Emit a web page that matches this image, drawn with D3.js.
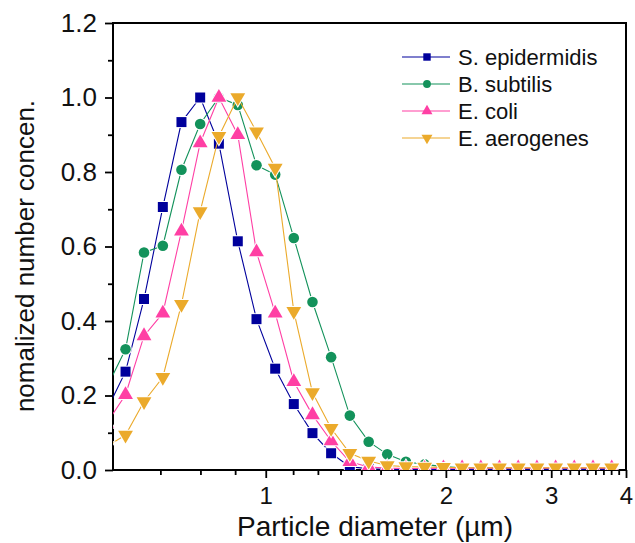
<!DOCTYPE html>
<meta charset="utf-8">
<script src="https://d3js.org/d3.v7.min.js"></script>
<style>
  html, body { margin: 0; padding: 0; background: white; }
  text { font-family: 'Liberation Sans', Arial, sans-serif; }
</style>
<body>
<div id="chart"></div>
<script>

// APS channel midpoints (um)
var diameters = [0.542, 0.583, 0.626, 0.673, 0.723, 0.777, 0.835, 0.898, 0.965, 1.037,
                 1.114, 1.197, 1.286, 1.382, 1.486, 1.596, 1.715, 1.843, 1.981, 2.129,
                 2.288, 2.458, 2.642, 2.839, 3.051, 3.278, 3.523, 3.786]

var sEpidermidis = [0.16, 0.264, 0.459, 0.706, 0.934, 1.0, 0.876, 0.614, 0.405, 0.272,
                    0.177, 0.099, 0.045, 0.009, 0.003, 0.002, 0.001, 0.001, 0.001, 0.001,
                    0.001, 0.001, 0.001, 0.001, 0.001, 0.001, 0.001, 0.001]
var bSubtilis = [0.221, 0.324, 0.584, 0.602, 0.806, 0.929, 1.0, 0.98, 0.818, 0.793,
                 0.623, 0.451, 0.303, 0.146, 0.076, 0.042, 0.022, 0.015, 0.009, 0.006,
                 0.005, 0.005, 0.004, 0.004, 0.004, 0.004, 0.004, 0.004]
var eColi = [0.125, 0.202, 0.36, 0.421, 0.641, 0.878, 1.0, 0.9, 0.585, 0.421,
             0.237, 0.148, 0.078, 0.022, 0.008, 0.005, 0.004, 0.004, 0.005, 0.005,
             0.005, 0.005, 0.005, 0.005, 0.005, 0.005, 0.005, 0.005]
var eAerogenes = [0.063, 0.094, 0.184, 0.249, 0.445, 0.694, 0.896, 1.0, 0.908, 0.811,
                  0.426, 0.208, 0.112, 0.045, 0.024, 0.012, 0.009, 0.008, 0.007, 0.006,
                  0.006, 0.006, 0.006, 0.006, 0.006, 0.006, 0.006, 0.006]

var seriesNames = ["S. epidermidis", "B. subtilis", "E. coli", "E. aerogenes"]
var seriesValues = [sEpidermidis, bSubtilis, eColi, eAerogenes]
var seriesColors = ["#00009c", "#13925b", "#ff3fa4", "#ebaa2b"]
var seriesSymbols = ["square", "circle", "triangle", "triangleDown"]

var xMajorTicks = [1, 2, 3, 4]
var yTicks = [0, 0.2, 0.4, 0.6, 0.8, 1.0, 1.2]

var width = 635,
    height = 543
var margin = {top: 23, right: 9, bottom: 73, left: 113}
var innerW = width - margin.left - margin.right,
    innerH = height - margin.top - margin.bottom

var svg = d3.select("#chart")
  .append("svg")
    .attr("width", width)
    .attr("height", height)

var g = svg.append("g")
    .attr("transform", "translate(" + margin.left + "," + margin.top + ")")

var x = d3.scaleLog()
  .domain([5 / 9, 4])
  .range([0, innerW])

var y = d3.scaleLinear()
  .domain([0, 1.2])
  .range([innerH, 0])

// minor ticks: 8 per unit interval (Origin style)
var xMinor = []
for (var k = 0; k < 4; k++) {
  for (var j = 1; j < 9; j++) {
    var v = k + j / 9
    if (v > 5 / 9 && v < 4) xMinor.push(v)
  }
}
var yMinor = d3.range(0.1, 1.2, 0.2)

svg.append("defs").append("clipPath")
    .attr("id", "plotclip")
  .append("rect")
    .attr("width", innerW)
    .attr("height", innerH)

// axes
g.append("g")
    .attr("transform", "translate(0," + innerH + ")")
    .call(d3.axisBottom(x).tickValues(xMinor).tickSize(5).tickFormat(""))
g.append("g")
    .attr("class", "xaxis")
    .attr("transform", "translate(0," + innerH + ")")
    .call(d3.axisBottom(x).tickValues(xMajorTicks).tickSize(8).tickPadding(9)
      .tickFormat(d3.format("d")))

g.append("g")
    .call(d3.axisLeft(y).tickValues(yMinor).tickSize(5).tickFormat(""))
g.append("g")
    .attr("class", "yaxis")
    .call(d3.axisLeft(y).tickValues(yTicks).tickSize(8).tickPadding(8)
      .tickFormat(d3.format(".1f")))

g.selectAll(".tick line").attr("stroke", "#000").attr("stroke-width", 1.8)
g.selectAll(".domain").remove()
g.selectAll(".xaxis .tick text")
    .attr("fill", "#111")
    .style("font-size", "24px")
g.selectAll(".yaxis .tick text")
    .attr("fill", "#111")
    .style("font-size", "26px")

// frame
g.append("rect")
    .attr("width", innerW)
    .attr("height", innerH)
    .attr("fill", "none")
    .attr("stroke", "#000")
    .attr("stroke-width", 2)

var symType = {
  square: d3.symbolSquare,
  circle: d3.symbolCircle,
  triangle: d3.symbolTriangle,
  triangleDown: d3.symbolTriangle
}
function symPath(name, size) {
  return d3.symbol().type(symType[name]).size(size)()
}
var symSize = {square: 100, circle: 88, triangle: 95, triangleDown: 95}

var line = d3.line()
  .x(function(d) { return x(d[0]) })
  .y(function(d) { return y(d[1]) })

var plot = g.append("g").attr("clip-path", "url(#plotclip)")

seriesValues.forEach(function(vals, i) {
  var pts = diameters.map(function(d, n) { return [d, vals[n]] })
  plot.append("path")
      .datum(pts)
      .attr("d", line)
      .attr("fill", "none")
      .attr("stroke", seriesColors[i])
      .attr("stroke-width", 1.1)

  plot.selectAll(".m" + i)
    .data(pts)
    .enter()
    .append("path")
      .attr("d", symPath(seriesSymbols[i], symSize[seriesSymbols[i]]))
      .attr("transform", function(d) {
        var t = "translate(" + x(d[0]) + "," + y(d[1]) + ")"
        if (seriesSymbols[i] == "triangleDown") t += " rotate(180)"
        return t
      })
      .attr("fill", seriesColors[i])
      .attr("stroke", "white")
      .attr("stroke-width", 2)
      .style("paint-order", "stroke")
})

// legend
var legend = g.append("g")
    .attr("transform", "translate(" + (402 - margin.left) + "," + (57 - margin.top) + ")")

seriesNames.forEach(function(name, i) {
  var row = legend.append("g").attr("transform", "translate(0," + (i * 27) + ")")
  row.append("line")
      .attr("x1", 0).attr("x2", 48)
      .attr("stroke", seriesColors[i])
      .attr("stroke-width", 1.1)
  row.append("path")
      .attr("d", symPath(seriesSymbols[i], symSize[seriesSymbols[i]] * 0.55))
      .attr("transform", "translate(25,0)" + (seriesSymbols[i] == "triangleDown" ? " rotate(180)" : ""))
      .attr("fill", seriesColors[i])
  row.append("text")
      .attr("x", 56)
      .attr("dy", "0.36em")
      .style("font-size", "22px")
      .attr("fill", "#111")
      .text(name)
})

// axis titles
svg.append("text")
    .attr("x", 375)
    .attr("y", 536)
    .attr("text-anchor", "middle")
    .style("font-size", "28px")
    .attr("fill", "#111")
    .text("Particle diameter (µm)")

svg.append("text")
    .attr("transform", "translate(34," + 256 + ") rotate(-90)")
    .attr("text-anchor", "middle")
    .style("font-size", "26px")
    .attr("fill", "#111")
    .text("nomalized number concen.")

</script>
</body>
